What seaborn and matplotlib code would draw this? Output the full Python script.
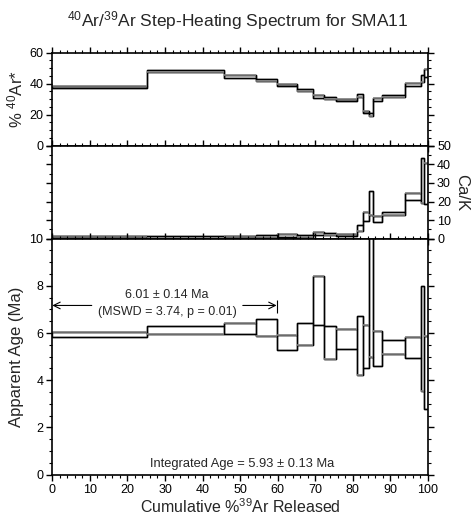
import numpy as np
import matplotlib
matplotlib.use("Agg")
import matplotlib.pyplot as plt
import seaborn as sns
import pandas as pd
from matplotlib.ticker import MultipleLocator

# ---- data ----
edges = [0, 25.1, 45.8, 54.2, 59.7, 65.2, 69.5, 72.2, 75.5, 81.2, 82.8,
         84.4, 85.4, 87.7, 94.0, 98.2, 98.9, 100]
age_lo = [5.83, 5.97, 5.95, 5.88, 5.28, 5.51, 6.34, 4.92, 5.31, 4.24,
          4.52, 4.99, 4.59, 5.10, 4.96, 3.56, 2.77]
age_hi = [6.05, 6.28, 6.44, 6.60, 5.90, 6.44, 8.43, 6.31, 6.16, 6.71,
          6.34, 12.0, 6.09, 5.72, 5.83, 7.98, 5.89]
rad_lo = [37.1, 47.7, 43.4, 41.7, 38.2, 35.0, 30.7, 30.2, 28.9, 31.1,
          21.0, 19.2, 28.9, 31.1, 38.8, 41.4, 44.3]
rad_hi = [38.2, 48.8, 45.6, 43.0, 39.7, 36.5, 32.6, 31.7, 30.4, 33.3,
          22.5, 21.4, 30.7, 32.6, 40.4, 45.6, 49.4]
cak_lo = [0.3, 0.3, 0.5, 1.1, 1.1, 1.1, 2.2, 1.9, 1.7, 4.0,
          9.4, 12.7, 9.0, 12.6, 20.8, 19.0, 18.5]
cak_hi = [1.3, 1.3, 1.6, 2.2, 2.6, 1.9, 3.6, 2.9, 2.6, 7.5,
          14.4, 25.8, 12.2, 14.4, 24.4, 43.2, 40.5]

plateau_start, plateau_end, plateau_y = 0, 59.7, 7.17
plateau_text = "6.01 \u00b1 0.14 Ma"
mswd_text = "(MSWD = 3.74, p = 0.01)"
integrated_text = "Integrated Age = 5.93 \u00b1 0.13 Ma"

sns.set_theme(style="ticks")
plt.rcParams['font.family'] = ['Liberation Sans', 'DejaVu Sans']
plt.rcParams['mathtext.fontset'] = 'custom'
plt.rcParams['mathtext.rm'] = 'Liberation Sans'
plt.rcParams['mathtext.it'] = 'Liberation Sans'

fig = plt.figure(figsize=(4.74, 5.16), dpi=100)
L, W = 52.3 / 474, (428 - 52.3) / 474
def pos(top_px, bot_px):
    return [L, 1 - bot_px / 516, W, (bot_px - top_px) / 516]

ax_top = fig.add_axes(pos(52.7, 145.7))
ax_mid = fig.add_axes(pos(145.7, 238.7))
ax_bot = fig.add_axes(pos(238.7, 474.6))

left = np.array(edges[:-1])
width = np.diff(edges)

def draw_steps(ax, lo, hi):
    lo = np.array(lo); hi = np.array(hi)
    df = pd.DataFrame({
        'x': list(edges),
        'hi': list(hi) + [hi[-1]],
        'lo': list(lo) + [lo[-1]],
    })
    # step envelopes (give the connectors between steps)
    sns.lineplot(data=df, x='x', y='hi', ax=ax, drawstyle='steps-post',
                 color='black', linewidth=1.0, legend=False, zorder=3)
    sns.lineplot(data=df, x='x', y='lo', ax=ax, drawstyle='steps-post',
                 color='black', linewidth=1.0, legend=False, zorder=3)
    # error boxes
    ax.bar(left, hi - lo, width=width, bottom=lo, align='edge',
           facecolor='none', edgecolor='black', linewidth=1.0, zorder=3)
    # grey second trace on one edge of each box
    for i in range(len(lo)):
        yv = hi[i] if i % 2 == 0 else lo[i]
        ax.hlines(yv, edges[i], edges[i + 1], color='0.55', linewidth=1.1, zorder=4)

draw_steps(ax_top, rad_lo, rad_hi)
draw_steps(ax_mid, cak_lo, cak_hi)
draw_steps(ax_bot, age_lo, age_hi)

for ax in (ax_top, ax_mid, ax_bot):
    ax.set_xlim(0, 100)
    ax.xaxis.set_major_locator(MultipleLocator(10))
    ax.xaxis.set_minor_locator(MultipleLocator(2))
    for s in ax.spines.values():
        s.set_visible(True)
        s.set_linewidth(1.2)
        s.set_color('black')
        s.set_zorder(6)
    ax.tick_params(which='both', direction='out', top=True, bottom=True,
                   left=True, right=True, colors='black', labelsize=9, pad=2)
    ax.tick_params(which='major', length=4.5, width=1.0)
    ax.tick_params(which='minor', length=2.5, width=0.8)
    ax.set_ylabel('')
    ax.set_xlabel('')

ax_top.set_ylim(0, 60)
ax_top.yaxis.set_major_locator(MultipleLocator(20))
ax_top.yaxis.set_minor_locator(MultipleLocator(5))
ax_top.tick_params(labelbottom=False)
ax_top.set_ylabel("% $^{40}$Ar*", fontsize=12, labelpad=3)

ax_mid.set_ylim(0, 50)
ax_mid.yaxis.set_major_locator(MultipleLocator(10))
ax_mid.yaxis.set_minor_locator(MultipleLocator(5))
ax_mid.tick_params(labelbottom=False, labelleft=False, labelright=True)
ax_mid.yaxis.set_label_position('right')
ax_mid.set_ylabel("Ca/K", fontsize=12, rotation=-90, labelpad=13)

ax_bot.set_ylim(0, 10)
ax_bot.yaxis.set_major_locator(MultipleLocator(2))
ax_bot.yaxis.set_minor_locator(MultipleLocator(0.5))
ax_bot.set_ylabel("Apparent Age (Ma)", fontsize=12, labelpad=4)
ax_bot.set_xlabel("Cumulative %$^{39}$Ar Released", fontsize=11.5, labelpad=1)

# plateau annotation
arrow_kw = dict(arrowstyle='->', color='black', lw=0.8, shrinkA=0, shrinkB=0)
ax_bot.annotate('', xy=(plateau_start, plateau_y), xytext=(10.5, plateau_y),
                arrowprops=arrow_kw, zorder=5)
ax_bot.annotate('', xy=(plateau_end, plateau_y), xytext=(50.7, plateau_y),
                arrowprops=arrow_kw, zorder=5)
ax_bot.vlines(plateau_end, 6.85, 7.39, color='black', linewidth=0.8)
ax_bot.text(30.5, 7.6, plateau_text, ha='center', va='center', fontsize=9)
ax_bot.text(30.5, 6.89, mswd_text, ha='center', va='center', fontsize=9)
ax_bot.text(50.4, 0.47, integrated_text, ha='center', va='center', fontsize=9.3)

fig.text(238 / 474, 1 - 21 / 516,
         "$^{40}$Ar/$^{39}$Ar Step-Heating Spectrum for SMA11",
         ha='center', va='center', fontsize=12.5)

fig.savefig("out.png", dpi=100)
